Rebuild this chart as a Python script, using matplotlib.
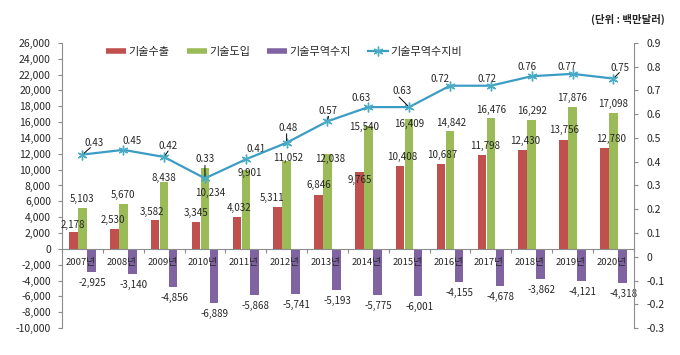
import numpy as np
import matplotlib.pyplot as plt
from matplotlib.lines import Line2D
from matplotlib.ticker import FuncFormatter

plt.rcParams['font.family'] = ['Noto Sans CJK KR', 'DejaVu Sans']

# data (unit: million USD)
years = ['2007년', '2008년', '2009년', '2010년', '2011년', '2012년', '2013년',
         '2014년', '2015년', '2016년', '2017년', '2018년', '2019년', '2020년']
export = [2178, 2530, 3582, 3345, 4032, 5311, 6846, 9765, 10408, 10687, 11798, 12430, 13756, 12780]
imports = [5103, 5670, 8438, 10234, 9901, 11052, 12038, 15540, 16409, 14842, 16476, 16292, 17876, 17098]
balance = [-2925, -3140, -4856, -6889, -5868, -5741, -5193, -5775, -6001, -4155, -4678, -3862, -4121, -4318]
ratio = [0.43, 0.45, 0.42, 0.33, 0.41, 0.48, 0.57, 0.63, 0.63, 0.72, 0.72, 0.76, 0.77, 0.75]

# label nudges in pixels (dx, dy)
exp_off = [(-1, 6.5), (-1, 9), (-3, 8), (0, 9), (2, 9), (-6, 9), (0, 10),
           (0, -8.5), (2, 9), (1, 9), (3, 9), (2, 9), (1, 10), (7, 9)]
imp_off = [(0, 9), (0, 9), (0, 4), (5, -25), (4, -3), (1, 3), (3, -5),
           (-4, -1), (0, -5), (1, 8), (0, 8), (0, 9), (0, 9), (0, 9)]
rat_off = [(12, 12), (9, 9), (4, 11), (0, 19), (10, 10), (1, 15), (1, 10),
           (-7, 9), (-7, 16), (-10, 7), (-4, 7), (-5, 9), (-6, 7), (7, 11)]
# leader lines: index -> start offset in pixels (line runs to the point)
leaders = {0: (8, 7), 2: (4, 6), 3: (0, 13), 5: (0, 9), 6: (1, 5), 8: (-10, 10), 13: (6, 6)}

c_exp = '#C0504D'
c_imp = '#9BBB59'
c_bal = '#8064A2'
c_rat = '#3C9DC4'
gray = '#8C8C8C'
txt = '#262626'

fig = plt.figure(figsize=(6.8, 3.55), dpi=100)
ax = fig.add_axes([0.0912, 0.076, 0.8408, 0.803])

x = np.arange(len(years))
w = 0.21
off = 0.22
ax.bar(x - off, export, w, color=c_exp)
ax.bar(x, imports, w, color=c_imp)
ax.bar(x + off, balance, w, color=c_bal)

ax.set_xlim(-0.5, len(years) - 0.5)
ax.set_ylim(-10000, 26000)
ax.set_yticks(range(-10000, 26001, 2000))
ax.yaxis.set_major_formatter(FuncFormatter(lambda v, p: f'{int(v):,}'))
ax.set_xticks(np.arange(-0.5, len(years), 1))
ax.set_xticklabels([])
ax.tick_params(axis='y', labelsize=7.5, labelcolor=txt, color=gray, length=3, pad=5)
ax.tick_params(axis='x', color=gray, length=3)
for s in ['top', 'right']:
    ax.spines[s].set_visible(False)
ax.spines['bottom'].set_position(('data', 0))
ax.spines['bottom'].set_color(gray)
ax.spines['left'].set_color(gray)

for i in x:
    ax.annotate(f'{export[i]:,}', (i - off, export[i]), xytext=exp_off[i],
                textcoords='offset pixels', ha='center', va='center', fontsize=7, color=txt)
    ax.annotate(f'{imports[i]:,}', (i, imports[i]), xytext=imp_off[i],
                textcoords='offset pixels', ha='center', va='center', fontsize=7, color=txt)
    ax.annotate(f'{balance[i]:,}', (i + off, balance[i]), xytext=(1, -11),
                textcoords='offset pixels', ha='center', va='center', fontsize=7, color=txt)
    ax.annotate(years[i], (i, 0), xytext=(-2, -14), textcoords='offset pixels',
                ha='center', va='center', fontsize=6.8, color=txt, zorder=5)

ax2 = ax.twinx()
ax2.plot(x, ratio, color=c_rat, lw=1.6, marker=(6, 2, 0), ms=7, mew=1,
         mec='#4BACC6', zorder=4)
ax2.set_ylim(-0.3, 0.9)
ax2.set_yticks(np.round(np.arange(-0.3, 0.91, 0.1), 1))
ax2.yaxis.set_major_formatter(FuncFormatter(lambda v, p: '0' if abs(v) < 1e-9 else f'{v:.1f}'))
ax2.tick_params(axis='y', labelsize=7.5, labelcolor=txt, color=gray, length=3, pad=6)
for s in ['top', 'left', 'bottom']:
    ax2.spines[s].set_visible(False)
ax2.spines['right'].set_color(gray)

for i in x:
    ax2.annotate(f'{ratio[i]:.2f}', (i, ratio[i]), xytext=rat_off[i], textcoords='offset pixels',
                 ha='center', va='center', fontsize=7, color=txt)
for i, st in leaders.items():
    ax2.annotate('', (i, ratio[i]), xytext=st, textcoords='offset pixels',
                 arrowprops=dict(arrowstyle='-', color='black', lw=0.7, shrinkA=0, shrinkB=1.5),
                 zorder=5)

handles = [Line2D([0], [0], color=c_exp, lw=4, solid_capstyle='butt'),
           Line2D([0], [0], color=c_imp, lw=4, solid_capstyle='butt'),
           Line2D([0], [0], color=c_bal, lw=4, solid_capstyle='butt'),
           Line2D([0], [0], color=c_rat, lw=1.6, marker=(6, 2, 0), ms=7, mec='#4BACC6')]
fig.legend(handles, ['기술수출', '기술도입', '기술무역수지', '기술무역수지비'],
           loc='center', bbox_to_anchor=(0.418, 0.853), ncol=4, frameon=False,
           fontsize=8, handlelength=1.8, handletextpad=0.25, columnspacing=1.5,
           labelcolor=txt)

fig.text(0.978, 0.944, '(단위 : 백만달러)', ha='right', va='center',
         fontsize=7.5, fontweight='bold', color=txt)

fig.savefig('out.png', dpi=100)
